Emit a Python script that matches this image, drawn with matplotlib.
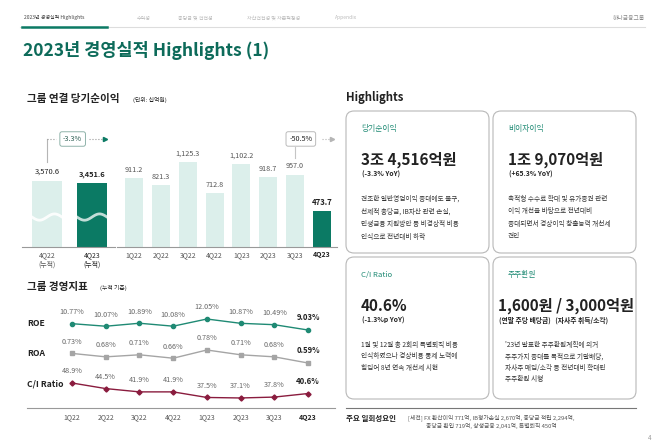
import numpy as np
import matplotlib
matplotlib.use('Agg')
import matplotlib.pyplot as plt
from matplotlib.patches import FancyBboxPatch

plt.rcParams['font.family'] = ['Noto Sans CJK KR', 'DejaVu Sans']

# --- data ---
cum_labels = ['4Q22\n(누적)', '4Q23\n(누적)']
cum_profit = [3570.6, 3451.6]
quarters = ['1Q22', '2Q22', '3Q22', '4Q22', '1Q23', '2Q23', '3Q23', '4Q23']
q_profit = [911.2, 821.3, 1125.3, 712.8, 1102.2, 918.7, 957.0, 473.7]
roe = [10.77, 10.07, 10.89, 10.08, 12.05, 10.87, 10.49, 9.03]
roa = [0.73, 0.68, 0.71, 0.66, 0.78, 0.71, 0.68, 0.59]
ci_ratio = [48.9, 44.5, 41.9, 41.9, 37.5, 37.1, 37.8, 40.6]
nav_items = ['2023년 경영실적 Highlights', '수익성', '충당금 및 건전성',
             '자산건전성 및 자본적정성', 'Appendix']

W, H = 658, 447
GREEN = '#0b7a64'
TEAL = '#1f8a74'
LIGHT = '#dcefeb'
GRAY = '#9a9a9a'
MAROON = '#8a1c3e'
DARK = '#222222'


def rect(x0, y0, x1, y1):
    return [x0 / W, 1 - y1 / H, (x1 - x0) / W, (y1 - y0) / H]


fig = plt.figure(figsize=(W / 100, H / 100), dpi=100)
bg = fig.add_axes([0, 0, 1, 1])
bg.set_xlim(0, W)
bg.set_ylim(H, 0)
bg.axis('off')

# header / navigation
nav_x = [24, 137, 178, 247, 335]
for i, (t, x) in enumerate(zip(nav_items, nav_x)):
    bg.text(x, 18, t, fontsize=3.6, color='#444' if i == 0 else '#bbbbbb', va='center')
bg.text(645, 18, '하나금융그룹', fontsize=4.2, color='#888', va='center', ha='right')
bg.plot([20, 645], [27, 27], color='#dddddd', lw=0.8)
bg.plot([22, 107], [27, 27], color=GREEN, lw=1.8)

bg.text(23, 51, '2023년 경영실적 Highlights (1)', fontsize=12.6, color='#0d6b5a',
        va='center', fontweight='bold')

# section headings
bg.text(27, 99, '그룹 연결 당기순이익', fontsize=7.6, fontweight='bold', color=DARK, va='center')
bg.text(133, 100, '(단위: 십억원)', fontsize=4.2, color=DARK, va='center')
bg.text(27, 287, '그룹 경영지표', fontsize=7.6, fontweight='bold', color=DARK, va='center')
bg.text(100, 288, '(누적 기준)', fontsize=4.2, color=DARK, va='center')
bg.text(346, 97, 'Highlights', fontsize=8.2, fontweight='bold', color=DARK, va='center')

# --- bar chart: cumulative ---
axl = fig.add_axes(rect(22, 141, 115, 247))
axl.bar(range(len(cum_profit)), cum_profit, width=0.667, color=[LIGHT, GREEN])
axl.set_xlim(-0.556, 1.511)
axl.set_ylim(0, 5735)
for i, v in enumerate(cum_profit):
    axl.text(i, v + 280, f'{v:,.1f}', ha='center', va='bottom', fontsize=5.4,
             color=DARK, fontweight='bold' if i == 1 else 'normal')
    xs = np.linspace(i - 0.333, i + 0.333, 40)
    axl.plot(xs, 1620 + 170 * np.sin((xs - i) * 9.4), color='white', lw=2.0,
             alpha=0.9 if i == 0 else 0.75)
axl.set_xticks(range(len(cum_profit)))
axl.set_xticklabels(cum_labels, fontsize=5, color='#555', linespacing=1.3)
axl.get_xticklabels()[1].set_color(DARK)

# --- bar chart: quarterly ---
axr = fig.add_axes(rect(117, 141, 337, 247))
axr.bar(range(len(q_profit)), q_profit, width=0.67,
        color=[LIGHT] * (len(q_profit) - 1) + [GREEN])
axr.set_xlim(-0.64, 7.57)
axr.set_ylim(0, 1400)
for i, v in enumerate(q_profit):
    last = i == len(q_profit) - 1
    axr.text(i, v + 55, f'{v:,.1f}', ha='center', va='bottom',
             fontsize=5.6 if last else 5.2,
             color=DARK if last else '#555', fontweight='bold' if last else 'normal')
axr.set_xticks(range(len(quarters)))
axr.set_xticklabels(quarters, fontsize=5, color='#555')
axr.get_xticklabels()[-1].set_fontweight('bold')
axr.get_xticklabels()[-1].set_color(DARK)

for ax in (axl, axr):
    ax.patch.set_alpha(0)
    for s in ('top', 'right', 'left'):
        ax.spines[s].set_visible(False)
    ax.spines['bottom'].set_color('#999')
    ax.spines['bottom'].set_linewidth(0.8)
    ax.set_yticks([])
    ax.tick_params(axis='x', length=0, pad=3)

# callout: cumulative change
lvl_l = 5843
axl.plot([0, 0], [4600, lvl_l], color='#b5b5b5', lw=0.8, clip_on=False)
axl.plot([0, 0.2], [lvl_l, lvl_l], color=GRAY, lw=0.8, ls=':', clip_on=False)
axl.plot([0.93, 1.27], [lvl_l, lvl_l], color=GRAY, lw=0.8, ls=':', clip_on=False)
axl.plot([1.29], [lvl_l], marker='>', color=GREEN, ms=3, clip_on=False)
pct_cum = (cum_profit[1] / cum_profit[0] - 1) * 100
axl.text(0.57, lvl_l, f'{pct_cum:.1f}%', ha='center', va='center', fontsize=5.2, color='#2b5d52',
         bbox=dict(boxstyle='round,pad=0.45,rounding_size=0.3', fc='white', ec='#8fb3aa', lw=0.7))

# callout: quarterly change
lvl_r = 1427
axr.plot([6, 6], [1176, lvl_r - 100], color='#c5c5c5', lw=0.8, clip_on=False)
axr.plot([7.0, 7.35], [lvl_r, lvl_r], color='#b5b5b5', lw=0.8, ls=':', clip_on=False)
axr.plot([7.4], [lvl_r], marker='>', color='#b5b5b5', ms=3, clip_on=False)
pct_q = (q_profit[-1] / q_profit[-2] - 1) * 100
axr.text(6.22, lvl_r, f'{pct_q:.1f}%', ha='center', va='center', fontsize=5.2, color=DARK,
         bbox=dict(boxstyle='round,pad=0.45,rounding_size=0.3', fc='white', ec='#bbbbbb', lw=0.7))

# --- line charts: ROE / ROA / C/I ---
xq = np.arange(len(quarters))
specs = [
    ('ROE', roe, (305, 335), (7.66, 15.9), TEAL, 'o', 3.0, '{:.2f}%', 323),
    ('ROA', roa, (340, 368), (0.517, 0.926), '#a5a5a5', 's', 3.0, '{:.2f}%', 354),
    ('C/I Ratio', ci_ratio, (375, 408), (29.2, 55.2), MAROON, 'D', 2.6, '{:.1f}%', 384),
]
line_axes = []
for name, vals, (y0, y1), ylim, col, mk, ms, fmt, ly in specs:
    ax = fig.add_axes(rect(27, y0, 335, y1))
    ax.patch.set_alpha(0)
    ax.plot(xq, vals, color=col, lw=1.0, marker=mk, ms=ms, clip_on=False)
    ax.set_xlim(-1.335, 7.80)
    ax.set_ylim(*ylim)
    for i, v in enumerate(vals):
        last = i == len(vals) - 1
        ax.annotate(fmt.format(v), (i, v), xytext=(0, 5.5), textcoords='offset points',
                    ha='center', va='bottom', fontsize=5.6 if last else 5.2,
                    color=DARK if last else '#666', fontweight='bold' if last else 'normal')
    for s in ('top', 'right', 'left', 'bottom'):
        ax.spines[s].set_visible(False)
    ax.set_yticks([])
    ax.set_xticks([])
    bg.text(27, ly, name, fontsize=6.2, fontweight='bold', color=DARK, va='center')
    line_axes.append(ax)

axc = line_axes[-1]
axc.spines['bottom'].set_visible(True)
axc.spines['bottom'].set_color('#999')
axc.spines['bottom'].set_linewidth(0.8)
axc.set_xticks(xq)
axc.set_xticklabels(quarters, fontsize=5, color='#555')
axc.get_xticklabels()[-1].set_fontweight('bold')
axc.get_xticklabels()[-1].set_color(DARK)
axc.tick_params(axis='x', length=0, pad=4)

# --- highlight cards ---
cards = [
    (346, 111, '당기순이익', '3조 4,516억원', '(-3.3% YoY)',
     ['견조한 일반영업이익 증대에도 불구,', '선제적 충당금, IB자산 관련 손실,',
      '민생금융 지원방안 등 비경상적 비용', '인식으로 전년대비 하락']),
    (493, 111, '비이자이익', '1조 9,070억원', '(+65.3% YoY)',
     ['축적형 수수료 확대 및 유가증권 관련', '이익 개선을 바탕으로 전년대비',
      '증대되면서 경상이익 창출능력 개선세', '견인']),
    (346, 257, 'C/I Ratio', '40.6%', '(-1.3%p YoY)',
     ['1월 및 12월 총 2회의 특별퇴직 비용', '인식하였으나 경상비용 통제 노력에',
      '힘입어 8년 연속 개선세 시현']),
    (493, 257, '주주환원', '1,600원 / 3,000억원', '(연말 주당 배당금)   (자사주 취득/소각)',
     ["'23년 발표한 주주환원계획에 의거", '주주가치 증대를 목적으로 기말배당,',
      '자사주 매입/소각 등 전년대비 확대된', '주주환원 시행']),
]
for k, (cx, cy, head, big, sub, body) in enumerate(cards):
    bg.add_patch(FancyBboxPatch((cx, cy), 143, 142,
                                boxstyle='round,pad=0,rounding_size=8',
                                fc='white', ec='#b8b8b8', lw=0.8))
    tx = cx + 15
    bx = cx + 5 if k == 3 else tx
    bg.text(tx, cy + 18, head, fontsize=5.6, color=TEAL, va='center')
    bg.text(bx, cy + 49, big, fontsize=11, fontweight='bold', color=DARK, va='center')
    bg.text(bx + 1, cy + 63, sub, fontsize=4.9, fontweight='bold', color=DARK, va='center')
    body_x = cx + 12 if k == 3 else tx
    bg.text(body_x, cy + 84, '\n'.join(body), fontsize=4.8, color='#333', va='top',
            linespacing=1.75 if k < 2 else 1.55)

# footer
bg.plot([346, 636], [408, 408], color='#777', lw=0.8)
bg.text(346, 418, '주요 일회성요인', fontsize=5.4, fontweight='bold', color=DARK, va='center')
bg.text(408, 418, '[세전] FX 환산이익 771억, IB평가손실 2,670억, 충당금 적립 2,294억,',
        fontsize=4.2, color='#555', va='center')
bg.text(426, 425.5, '충당금 환입 719억, 상생금융 2,041억, 특별퇴직 450억',
        fontsize=4.2, color='#555', va='center')
bg.text(650, 438, '4', fontsize=4.5, color='#999', va='center', ha='center')

fig.savefig('out.png', dpi=100)
